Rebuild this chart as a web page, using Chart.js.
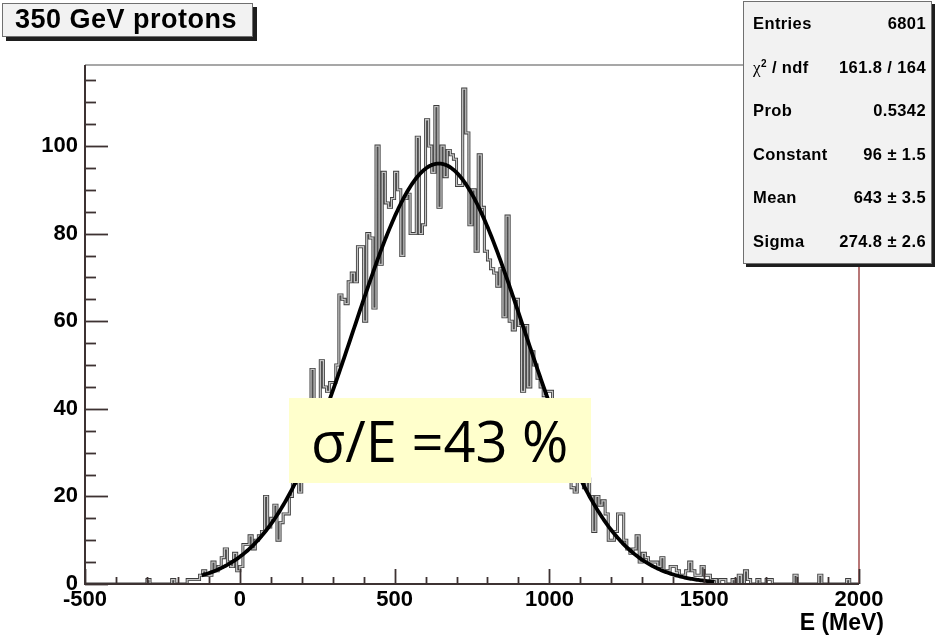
<!DOCTYPE html>
<html>
<head>
<meta charset="utf-8">
<script src="https://cdn.jsdelivr.net/npm/chart.js@4.4.1/dist/chart.umd.min.js"></script>
<style>
  html, body { margin: 0; padding: 0; background: #fff; }
  #wrap { position: relative; width: 936px; height: 639px; overflow: hidden; }
  #plot { position: absolute; left: 0; top: 0; }
  .box {
    position: absolute; box-sizing: border-box;
    background: #f2f2f2; border: 1px solid #707070;
    box-shadow: 4px 4px 0 #1e1e1e;
    font-family: 'Liberation Sans', Arial, sans-serif; font-weight: bold; color: #000;
  }
  #title { left: 2px; top: 3px; width: 251px; height: 34px; font-size: 27px; line-height: 31px; padding-left: 12px; letter-spacing: 0.5px; white-space: nowrap; }
  #stats { left: 743px; top: 1px; width: 189px; height: 263px; box-shadow: 3px 3px 0 #1e1e1e; }
  .row { position: absolute; left: 9px; right: 5px; height: 20px; line-height: 20px; font-size: 16.5px; letter-spacing: 0.4px; white-space: nowrap; }
  .row .lab { position: absolute; left: 0; }
  .row .val { position: absolute; right: 0; }
  .chi { font-family: 'Liberation Serif', serif; font-weight: normal; font-size: 17px; }
  .row sup { font-size: 10px; vertical-align: 6px; line-height: 0; }
  #note {
    position: absolute; left: 289px; top: 398px; width: 302px; height: 85px;
    background: #ffffcc; box-sizing: border-box; padding-left: 22px;
    font-family: 'Open Sans', 'Noto Sans', sans-serif; font-size: 56px; line-height: 85px; color: #000; white-space: nowrap;
  }
  #xtitle {
    position: absolute; right: 52px; top: 609px;
    font-family: 'Liberation Sans', Arial, sans-serif; font-weight: bold; font-size: 23px; line-height: 26px; color: #000;
  }
</style>
</head>
<body>
<div id="wrap">
  <canvas id="plot" width="936" height="639"></canvas>
  <div id="title" class="box">350 GeV protons</div>
  <div id="stats" class="box"></div>
  <div id="note">σ/E =43 %</div>
  <div id="xtitle">E (MeV)</div>
</div>
<script>
// Energy histogram: 10 MeV bins from -500 to 2000 MeV
const binLow = -500;
const binHigh = 2000;
const binWidth = 10;
const counts = [
  0, 0, 0, 0, 0, 0, 0, 0, 0, 0,          // -500
  0, 0, 0, 0, 0, 0, 0, 0, 0, 0,          // -400
  0, 1, 0, 0, 0, 0, 0, 0, 0, 1,          // -300
  0, 0, 0, 0, 1, 1, 1, 1, 2, 3,          // -200
  2, 2, 5, 3, 4, 6, 8, 5, 4, 7,          // -100
  3, 4, 9, 9, 11, 8, 10, 11, 12, 20,     // 0
  13, 15, 18, 10, 14, 16, 16, 20, 23, 30, // 100
  21, 33, 35, 40, 49, 40, 42, 51, 45, 44, // 200
  46, 46, 50, 66, 65, 64, 69, 71, 69, 77, // 300
  77, 60, 80, 79, 63, 100, 73, 94, 87, 86, // 400
  88, 94, 90, 75, 88, 89, 80, 80, 102, 80, // 500
  82, 106, 100, 94, 109, 86, 100, 93, 99, 98, // 600
  97, 91, 91, 113, 103, 82, 90, 76, 98, 86, // 700
  76, 74, 72, 71, 68, 72, 61, 84, 60, 58, // 800
  65, 59, 44, 59, 45, 53, 50, 47, 45, 43, // 900
  44, 44, 42, 40, 37, 36, 31, 29, 22, 21, // 1000
  26, 24, 22, 24, 20, 12, 20, 18, 19, 16, // 1100
  10, 10, 12, 16, 16, 10, 8, 7, 8, 11,   // 1200
  5, 7, 6, 5, 5, 5, 4, 6, 3, 3,          // 1300
  4, 4, 3, 2, 2, 3, 5, 3, 2, 2,          // 1400
  4, 2, 2, 1, 1, 0, 1, 1, 0, 0,          // 1500
  1, 0, 2, 0, 3, 1, 0, 0, 1, 0,          // 1600
  0, 1, 1, 0, 0, 0, 0, 0, 0, 0,          // 1700
  2, 0, 0, 0, 0, 0, 0, 0, 2, 0,          // 1800
  0, 0, 0, 0, 0, 0, 0, 1, 0, 0           // 1900
];

// Gaussian fit result
const fitConstant = 96;
const fitMean = 643;
const fitSigma = 274.8;
const fitRange = [-123, 1533];

// Axes
const xTickValues = [-500, 0, 500, 1000, 1500, 2000];
const yTickValues = [0, 20, 40, 60, 80, 100];
const yMax = 118.5;

// Statistics panel
const statLabels = ['Entries', '<span class="chi">χ</span><sup>2</sup> / ndf', 'Prob', 'Constant', 'Mean', 'Sigma'];
const statValues = ['6801', '161.8 / 164', '0.5342', '96 ± 1.5', '643 ± 3.5', '274.8 ± 2.6'];

// ---- build the panel rows
const stats = document.getElementById('stats');
statLabels.forEach((lab, i) => {
  const row = document.createElement('div');
  row.className = 'row';
  row.style.top = (11 + i * 43.6) + 'px';
  row.innerHTML = '<span class="lab">' + lab + '</span><span class="val">' + statValues[i] + '</span>';
  stats.appendChild(row);
});

// ---- histogram outline points (one per bin edge)
const histPoints = counts.map((c, i) => ({ x: binLow + i * binWidth, y: c }));
histPoints.push({ x: binHigh, y: counts[counts.length - 1] });

// ---- fitted gaussian over the fit range
const gaus = e => fitConstant * Math.exp(-0.5 * Math.pow((e - fitMean) / fitSigma, 2));
const curvePoints = [];
for (let e = fitRange[0]; e < fitRange[1]; e += 4) curvePoints.push({ x: e, y: gaus(e) });
curvePoints.push({ x: fitRange[1], y: gaus(fitRange[1]) });

const labelFont = { family: "'Liberation Sans', Arial, sans-serif", size: 22, weight: 'bold' };

// Frame and inward-pointing ticks, drawn on top of the data
const frameTicks = {
  id: 'frameTicks',
  afterDatasetsDraw(chart) {
    const { ctx, chartArea: a, scales: { x, y } } = chart;
    ctx.save();
    ctx.lineCap = 'butt';
    // top and right of frame
    ctx.strokeStyle = '#8a8a8a'; ctx.lineWidth = 1.5;
    ctx.beginPath(); ctx.moveTo(a.left, a.top); ctx.lineTo(a.right, a.top); ctx.stroke();
    ctx.strokeStyle = '#a04a4a';
    ctx.beginPath(); ctx.moveTo(a.right, a.top); ctx.lineTo(a.right, a.bottom); ctx.stroke();
    // axis lines
    ctx.strokeStyle = '#3d3232'; ctx.lineWidth = 2;
    ctx.beginPath(); ctx.moveTo(a.left, a.top); ctx.lineTo(a.left, a.bottom); ctx.lineTo(a.right, a.bottom); ctx.stroke();
    // y ticks: every 5, long every 20
    ctx.lineWidth = 1.8;
    for (let v = 0; v <= yMax; v += 5) {
      const py = Math.round(y.getPixelForValue(v)) + 0.5;
      const len = v % 20 === 0 ? 23 : 11;
      ctx.beginPath(); ctx.moveTo(a.left, py); ctx.lineTo(a.left + len, py); ctx.stroke();
    }
    // x ticks: every 100, long every 500
    for (let e = binLow; e <= binHigh; e += 100) {
      const px = Math.round(x.getPixelForValue(e)) + 0.5;
      const len = e % 500 === 0 ? 15 : 7;
      ctx.beginPath(); ctx.moveTo(px, a.bottom); ctx.lineTo(px, a.bottom - len); ctx.stroke();
    }
    ctx.restore();
  }
};

new Chart(document.getElementById('plot'), {
  type: 'line',
  data: {
    datasets: [
      { data: curvePoints, order: 0, borderColor: '#000', borderWidth: 3.8, pointRadius: 0, tension: 0, fill: false },
      { data: histPoints, order: 1, stepped: 'after', borderColor: '#c4c4c4', borderWidth: 1.3, pointRadius: 0, fill: false },
      { data: histPoints, order: 2, stepped: 'after', borderColor: '#3c3c3c', borderWidth: 3, pointRadius: 0, fill: false }
    ]
  },
  options: {
    responsive: false,
    animation: false,
    events: [],
    layout: { padding: { left: 0, right: 77, top: 65, bottom: 0 } },
    plugins: { legend: { display: false }, tooltip: { enabled: false } },
    scales: {
      x: {
        type: 'linear', min: binLow, max: binHigh,
        grid: { display: false, drawTicks: false }, border: { display: false },
        afterBuildTicks: s => { s.ticks = xTickValues.map(v => ({ value: v })); },
        afterFit: s => { s.height = 55; },
        ticks: { callback: v => String(v), font: labelFont, color: '#000', padding: 3, maxRotation: 0, autoSkip: false }
      },
      y: {
        type: 'linear', min: 0, max: yMax,
        grid: { display: false, drawTicks: false }, border: { display: false },
        afterBuildTicks: s => { s.ticks = yTickValues.map(v => ({ value: v })); },
        afterFit: s => { s.width = 85; },
        ticks: { callback: v => String(v), font: labelFont, color: '#000', padding: 7, autoSkip: false }
      }
    }
  },
  plugins: [frameTicks]
});
</script>
</body>
</html>
